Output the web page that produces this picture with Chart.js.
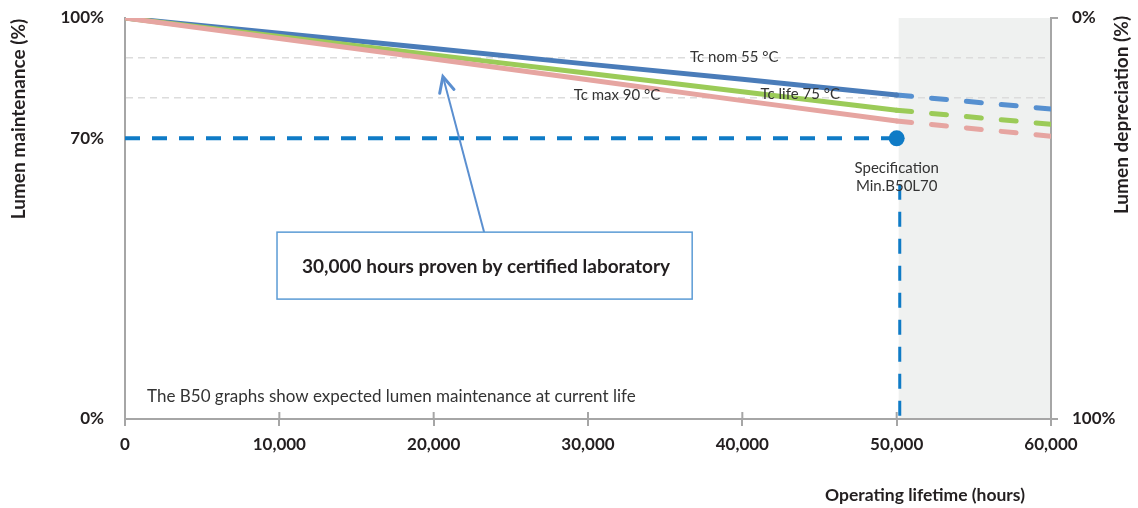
<!DOCTYPE html>
<html>
<head>
<meta charset="utf-8">
<script src="https://cdn.jsdelivr.net/npm/chart.js@4.4.1/dist/chart.umd.min.js"></script>
<style>
  body { margin: 0; background: #fff; }
  #wrap { width: 1138px; height: 508px; position: relative; }
</style>
</head>
<body>
<div id="wrap"><canvas id="lumenChart"></canvas></div>
<script>
// measured curves (hours -> lumen maintenance %)
const hours = [0, 10000, 20000, 30000, 40000, 50000];
const tcNom55 = [100, 96.2, 92.4, 88.5, 84.7, 80.8];
const tcLife75 = [100, 95.4, 90.8, 86.2, 81.6, 77.0];
const tcMax90 = [100, 94.9, 89.8, 84.6, 79.4, 74.3];

// extrapolated part
const extHours = [50000, 60000];
const tcNom55Ext = [80.8, 77.3];
const tcLife75Ext = [77.0, 73.5];
const tcMax90Ext = [74.3, 70.5];

// B50L70 specification
const specHours = [0, 50000];
const specLevel = [70, 70];
const specDropHours = [50200, 50200];
const specDropLevel = [58.4, 0];

const leftTicks = [0, 70, 80, 90, 100];
const rightTicks = [0, 100];
const shadeFrom = 50000;
const shadeTo = 60000;

const BLUE = "#4a7cb9";
const GREEN = "#9bcb58";
const PINK = "#e6a5a1";
const SPEC = "#0f7bc6";
const AXIS = "#a6a6a6";
const TEXT = "#231f20";

function pts(xs, ys) {
  return xs.map((x, i) => ({ x: x, y: ys[i] }));
}

const decor = {
  id: "decor",
  beforeDraw(chart) {
    const { ctx, chartArea: a, scales: { x } } = chart;
    const x0 = x.getPixelForValue(shadeFrom) + 2;
    const x1 = x.getPixelForValue(shadeTo);
    ctx.save();
    ctx.fillStyle = "#eff1f0";
    ctx.fillRect(x0, a.top, x1 - x0, a.bottom - a.top);
    ctx.restore();
  },
  afterDraw(chart) {
    const { ctx, chartArea: a, scales: { x, y } } = chart;
    ctx.save();

    // small tick stubs above the x axis
    ctx.strokeStyle = AXIS;
    ctx.lineWidth = 2;
    x.ticks.forEach((t) => {
      const px = x.getPixelForValue(t.value);
      if (px <= a.left + 1) return;
      ctx.beginPath();
      ctx.moveTo(px, a.bottom - 7);
      ctx.lineTo(px, a.bottom);
      ctx.stroke();
    });

    // curve labels
    ctx.fillStyle = "#333";
    ctx.font = "15px Lato";
    ctx.textAlign = "center";
    ctx.textBaseline = "middle";
    ctx.fillText("Tc nom 55 °C", x.getPixelForValue(39480), y.getPixelForValue(90.2));
    ctx.fillText("Tc max 90 °C", x.getPixelForValue(31880), y.getPixelForValue(80.8));
    ctx.fillText("Tc life 75 °C", x.getPixelForValue(43750), y.getPixelForValue(81.1));
    ctx.fillText("Specification", x.getPixelForValue(50000), y.getPixelForValue(62.6));
    ctx.fillText("Min.B50L70", x.getPixelForValue(50000), y.getPixelForValue(58.1));

    ctx.font = "17px Lato";
    ctx.textAlign = "left";
    ctx.fillText("The B50 graphs show expected lumen maintenance at current life",
      x.getPixelForValue(1430), y.getPixelForValue(5.7));

    // arrow to the curves
    const ax0 = x.getPixelForValue(23270), ay0 = y.getPixelForValue(46.6);
    const ax1 = x.getPixelForValue(20600), ay1 = y.getPixelForValue(85.4);
    ctx.strokeStyle = "#5b8fd0";
    ctx.lineWidth = 2;
    ctx.beginPath();
    ctx.moveTo(ax0, ay0);
    ctx.lineTo(ax1, ay1);
    ctx.stroke();
    const ang = Math.atan2(ay1 - ay0, ax1 - ax0);
    ctx.lineWidth = 3;
    ctx.lineCap = "round";
    ctx.beginPath();
    ctx.moveTo(ax1 - 17 * Math.cos(ang - 0.45), ay1 - 17 * Math.sin(ang - 0.45));
    ctx.lineTo(ax1, ay1);
    ctx.lineTo(ax1 - 17 * Math.cos(ang + 0.45), ay1 - 17 * Math.sin(ang + 0.45));
    ctx.stroke();

    // callout box
    const bx0 = x.getPixelForValue(9850), by0 = y.getPixelForValue(46.6);
    const bx1 = x.getPixelForValue(36750), by1 = y.getPixelForValue(29.9);
    ctx.fillStyle = "#fff";
    ctx.fillRect(bx0, by0, bx1 - bx0, by1 - by0);
    ctx.strokeStyle = "#5b9bd5";
    ctx.lineWidth = 1.5;
    ctx.strokeRect(bx0, by0, bx1 - bx0, by1 - by0);
    ctx.fillStyle = TEXT;
    ctx.font = "bold 19px Lato";
    ctx.fillText("30,000 hours proven by certified laboratory", bx0 + 25, (by0 + by1) / 2 + 1);

    // axis titles
    ctx.font = "bold 17.5px Lato";
    ctx.textAlign = "center";
    ctx.fillText("Operating lifetime (hours)", 925, 495);

    ctx.font = "bold 19px Lato";
    ctx.save();
    ctx.translate(19, 119);
    ctx.rotate(-Math.PI / 2);
    ctx.fillText("Lumen maintenance (%)", 0, 0);
    ctx.restore();

    ctx.save();
    ctx.translate(1122, 115);
    ctx.rotate(-Math.PI / 2);
    ctx.fillText("Lumen depreciation (%)", 0, 0);
    ctx.restore();

    ctx.restore();
  },
};

function noPad(scale) {
  scale.paddingTop = 0;
  scale.paddingBottom = 0;
  scale.paddingLeft = 0;
  scale.paddingRight = 0;
}

Chart.defaults.font.family = "Lato";

const ctx = document.getElementById("lumenChart").getContext("2d");
const lumenChart = new Chart(ctx, {
  type: "line",
  data: {
    datasets: [
      {
        label: "Tc max 90 °C",
        data: pts(hours, tcMax90),
        borderColor: PINK,
        borderWidth: 5,
        pointRadius: 0,
        borderCapStyle: "round",
      },
      {
        label: "Tc life 75 °C",
        data: pts(hours, tcLife75),
        borderColor: GREEN,
        borderWidth: 5,
        pointRadius: 0,
        borderCapStyle: "round",
      },
      {
        label: "Tc nom 55 °C",
        data: pts(hours, tcNom55),
        borderColor: BLUE,
        borderWidth: 5,
        pointRadius: 0,
        borderCapStyle: "round",
      },
      {
        label: "Tc max 90 °C ext",
        data: pts(extHours, tcMax90Ext),
        borderColor: PINK,
        borderWidth: 5,
        borderDash: [15, 20],
        borderCapStyle: "round",
        pointRadius: 0,
      },
      {
        label: "Tc life 75 °C ext",
        data: pts(extHours, tcLife75Ext),
        borderColor: GREEN,
        borderWidth: 5,
        borderDash: [15, 20],
        borderCapStyle: "round",
        pointRadius: 0,
      },
      {
        label: "Tc nom 55 °C ext",
        data: pts(extHours, tcNom55Ext),
        borderColor: "#5690d0",
        borderWidth: 5,
        borderDash: [15, 20],
        borderCapStyle: "round",
        pointRadius: 0,
      },
      {
        label: "Specification",
        data: pts(specHours, specLevel),
        borderColor: SPEC,
        borderWidth: 4,
        borderDash: [15, 12],
        pointRadius: [0, 8],
        pointBackgroundColor: SPEC,
        pointBorderWidth: 0,
      },
      {
        label: "Specification drop",
        data: pts(specDropHours, specDropLevel),
        borderColor: SPEC,
        borderWidth: 3,
        borderDash: [15, 12],
        pointRadius: 0,
      },
    ],
  },
  options: {
    responsive: true,
    maintainAspectRatio: false,
    animation: false,
    layout: { padding: { top: 18, left: 0, right: 0, bottom: 0 } },
    scales: {
      x: {
        type: "linear",
        min: 0,
        max: 60000,
        afterFit: (scale) => {
          scale.height = 89;
          noPad(scale);
        },
        ticks: {
          stepSize: 10000,
          color: TEXT,
          padding: 8,
          maxRotation: 0,
          font: { size: 17, weight: "bold" },
          callback: (value) => value.toLocaleString("en-US"),
        },
        grid: {
          drawOnChartArea: false,
          color: AXIS,
          lineWidth: 2,
          tickLength: 7,
        },
        border: { color: AXIS, width: 2 },
      },
      y: {
        position: "left",
        min: 0,
        max: 100,
        afterFit: (scale) => {
          scale.width = 125;
          noPad(scale);
        },
        afterBuildTicks: (scale) => {
          scale.ticks = leftTicks.map((v) => ({ value: v }));
        },
        ticks: {
          color: TEXT,
          padding: 21,
          font: { size: 17, weight: "bold" },
          callback: (value) => (value === 80 || value === 90 ? "" : value + "%"),
        },
        grid: {
          drawTicks: false,
          lineWidth: 1.5,
          color: (c) =>
            c.tick && (c.tick.value === 80 || c.tick.value === 90)
              ? "#dcdcdc"
              : "rgba(0,0,0,0)",
        },
        border: { color: AXIS, width: 2, dash: [7, 5] },
      },
      y2: {
        position: "right",
        display: true,
        min: 0,
        max: 100,
        reverse: true,
        afterFit: (scale) => {
          scale.width = 87;
          noPad(scale);
        },
        afterBuildTicks: (scale) => {
          scale.ticks = rightTicks.map((v) => ({ value: v }));
        },
        ticks: {
          color: TEXT,
          padding: 14,
          font: { size: 17, weight: "bold" },
          callback: (value) => value + "%",
        },
        grid: {
          drawOnChartArea: false,
          color: AXIS,
          lineWidth: 2,
          tickLength: 7,
        },
        border: { color: AXIS, width: 2 },
      },
    },
    plugins: {
      legend: { display: false },
      tooltip: { enabled: false },
    },
  },
  plugins: [decor],
});
</script>
</body>
</html>
